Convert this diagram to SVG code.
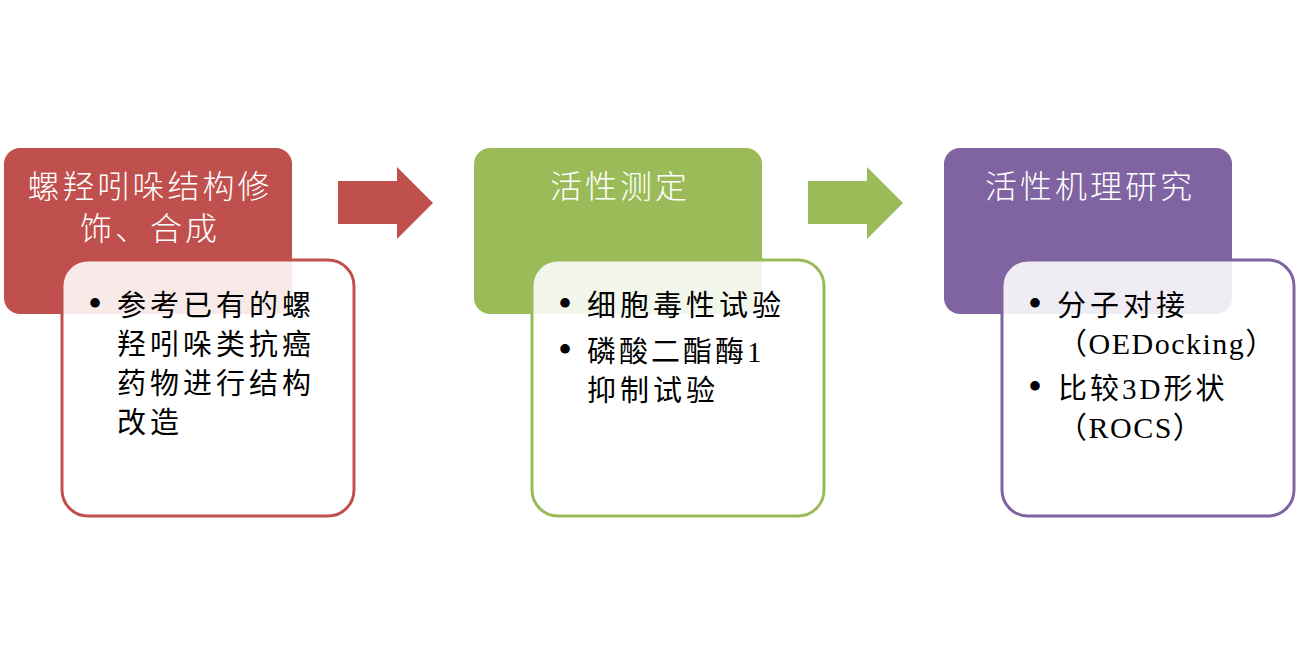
<svg xmlns="http://www.w3.org/2000/svg" width="1304" height="662" viewBox="0 0 1304 662">
<style>
.title{font-family:"Noto Sans CJK SC","Noto Sans",sans-serif;font-size:32px;fill:#fff;text-anchor:middle;letter-spacing:3px;font-weight:300}
.body{font-family:"Liberation Serif","Noto Sans CJK SC",serif;font-size:29px;fill:#000;letter-spacing:4px}
.lat{letter-spacing:1.5px;font-size:30px}
.mix{letter-spacing:3px}
.bul{font-family:"Liberation Serif",serif;font-size:40px;fill:#000}
.card{fill:#fff;fill-opacity:0.88;stroke-width:3}
</style>
<rect width="1304" height="662" fill="#fff"/>
<g id="connectors">
<path d="M338,181 H397 V167 L433,203 L397,239 V224 H338 Z" fill="#C0504D"/>
<path d="M808,181 H867 V167 L903,203 L867,239 V224 H808 Z" fill="#9BBB59"/>
</g>
<g id="node1">
<rect x="4" y="148" width="288" height="166" rx="16" fill="#C0504D"/>
<text class="title" x="150" y="198">螺羟吲哚结构修</text>
<text class="title" x="150" y="240">饰、合成</text>
<rect class="card" x="62" y="260" width="292" height="256" rx="26" stroke="#C0504D"/>
<text class="bul" x="88" y="317">•</text>
<text class="body" x="117" y="316">参考已有的螺</text>
<text class="body" x="117" y="355">羟吲哚类抗癌</text>
<text class="body" x="117" y="394">药物进行结构</text>
<text class="body" x="117" y="433">改造</text>
</g>
<g id="node2">
<rect x="474" y="148" width="288" height="166" rx="16" fill="#9BBB59"/>
<text class="title" x="620" y="198">活性测定</text>
<rect class="card" x="532" y="260" width="292" height="256" rx="26" stroke="#9BBB59"/>
<text class="bul" x="558" y="317">•</text>
<text class="body" x="587" y="316">细胞毒性试验</text>
<text class="bul" x="558" y="363">•</text>
<text class="body mix" x="587" y="362">磷酸二酯酶1</text>
<text class="body" x="587" y="401">抑制试验</text>
</g>
<g id="node3">
<rect x="944" y="148" width="288" height="166" rx="16" fill="#8064A2"/>
<text class="title" x="1090" y="198">活性机理研究</text>
<rect class="card" x="1002" y="260" width="292" height="256" rx="26" stroke="#8064A2"/>
<text class="bul" x="1028" y="317">•</text>
<text class="body" x="1057" y="316">分子对接</text>
<text class="body lat" x="1057" y="354">（OEDocking）</text>
<text class="bul" x="1028" y="400">•</text>
<text class="body mix" x="1058" y="399">比较3D形状</text>
<text class="body lat" x="1057" y="438">（ROCS）</text>
</g>
</svg>
